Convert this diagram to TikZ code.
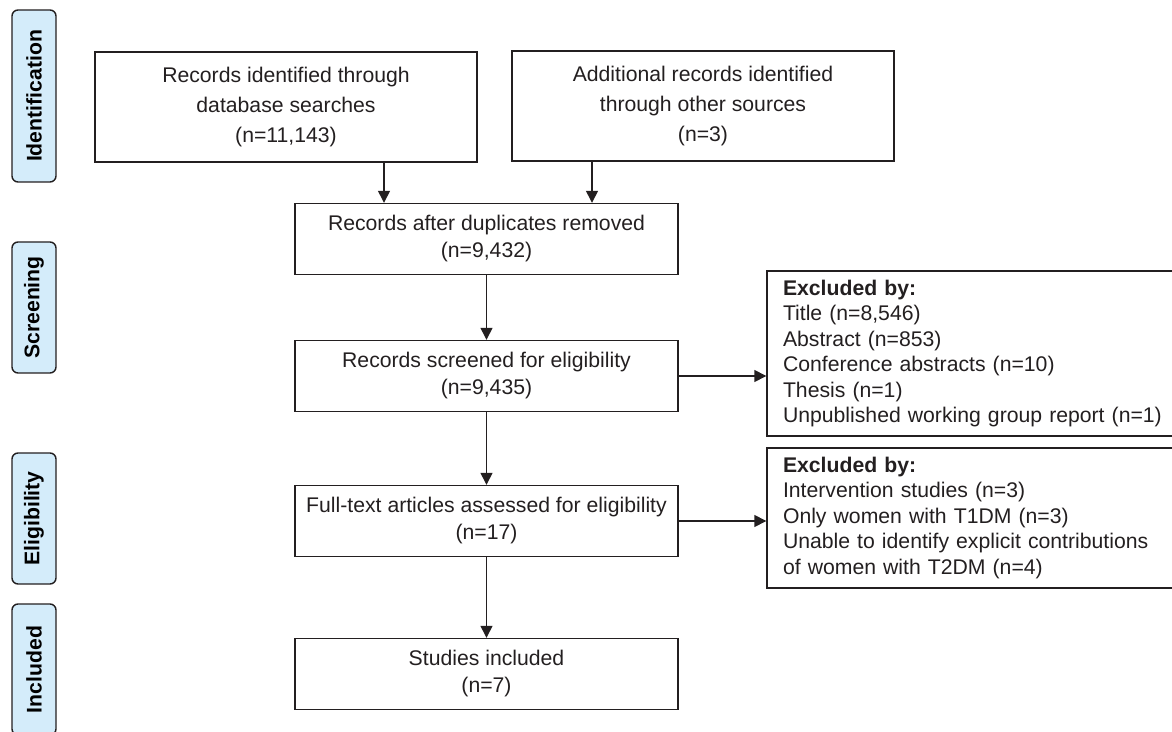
\documentclass[tikz,border=0pt]{standalone}
\usepackage{fontspec}
\setmainfont{Liberation Sans}
\usetikzlibrary{arrows.meta}
\definecolor{inkgray}{HTML}{231F20}
\definecolor{stageblue}{RGB}{212,236,250}

\begin{document}
\begin{tikzpicture}[x=0.5pt,y=-0.5pt,
    box/.style={draw=inkgray, line width=0.7pt, text=inkgray, align=center,
        minimum width=191.5pt, minimum height=35.5pt, inner sep=0pt,
        font=\fontsize{10.6}{13.5}\selectfont},
    topbox/.style={box, minimum width=191pt, minimum height=55pt,
        font=\fontsize{10.6}{14.8}\selectfont},
    exclbox/.style={box, align=left, text width=190pt, inner xsep=8pt,
        font=\fontsize{10.6}{12.75}\selectfont},
    stage/.style={draw=inkgray, line width=0.7pt, fill=stageblue, rounded corners=3pt,
        rotate=90, minimum height=22pt, inner sep=0pt, text=black,
        font=\fontsize{10.6}{13}\selectfont\bfseries},
    flow/.style={draw=inkgray, line width=0.7pt, -{Triangle[length=6pt,width=6pt]}}]

    \useasboundingbox (0,0) rectangle (1172,732);

    % Stage labels on the left
    \node[stage, minimum width=86pt] (ident) at (34,96) {Identification};
    \node[stage, minimum width=65.5pt] (screen) at (34,307.5) {Screening};
    \node[stage, minimum width=65.5pt] (elig) at (34,518.5) {Eligibility};
    \node[stage, minimum width=65.5pt] (incl) at (34,669.5) {Included};

    % Boxes of the main flow
    \node[topbox] (recid) at (286,107) {Records identified through\\database searches\\(n=11,143)};
    \node[topbox] (addrec) at (703,106) {Additional records identified\\through other sources\\(n=3)};
    \node[box] (dedup) at (486.5,239) {Records after duplicates removed\\(n=9,432)};
    \node[box] (screened) at (486.5,376) {Records screened for eligibility\\(n=9,435)};
    \node[box] (fulltext) at (486.5,521) {Full-text articles assessed for eligibility\\(n=17)};
    \node[box] (studies) at (486.5,674) {Studies included\\(n=7)};

    % Boxes of the exclusions
    \node[exclbox, minimum height=82.5pt] (excl1) at (973,353.5) {\textbf{Excluded by:}\\Title (n=8,546)\\Abstract (n=853)\\Conference abstracts (n=10)\\Thesis (n=1)\\Unpublished working group report (n=1)};
    \node[exclbox, minimum height=70pt] (excl2) at (973,518) {\textbf{Excluded by:}\\Intervention studies (n=3)\\Only women with T1DM (n=3)\\Unable to identify explicit contributions\\of women with T2DM (n=4)};

    % Where the two top arrows leave their boxes
    \coordinate (a1) at (384,0);
    \coordinate (a2) at (592,0);

    % Arrows
    \draw[flow] (recid.south -| a1) -- (dedup.north -| a1);
    \draw[flow] (addrec.south -| a2) -- (dedup.north -| a2);
    \draw[flow] (dedup) -- (screened);
    \draw[flow] (screened) -- (fulltext);
    \draw[flow] (fulltext) -- (studies);
    \draw[flow] (screened.east) -- (screened.east -| excl1.west);
    \draw[flow] (fulltext.east) -- (fulltext.east -| excl2.west);
\end{tikzpicture}
\end{document}
